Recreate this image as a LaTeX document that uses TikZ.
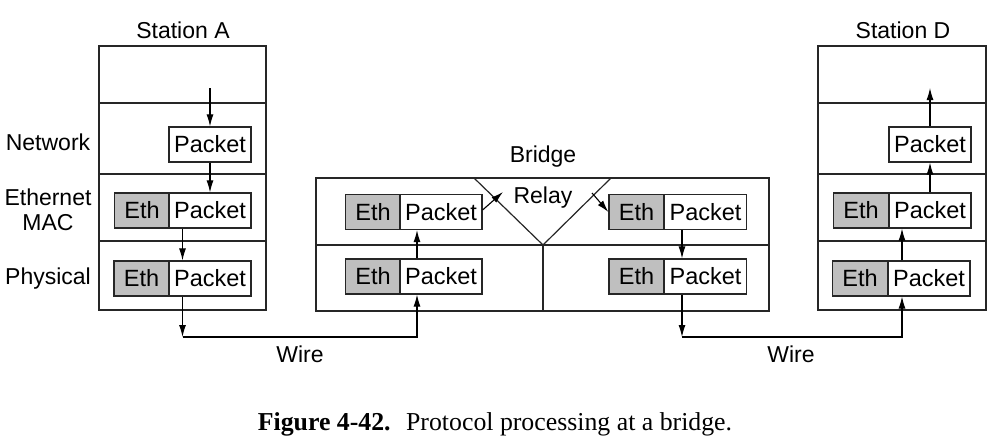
\documentclass[tikz,border=0pt]{standalone}
\usepackage{fontspec}
\setmainfont{Liberation Sans}
\newfontfamily\capfont{Liberation Serif}
\usetikzlibrary{arrows.meta,calc}
\begin{document}
\begin{tikzpicture}[x=1pt,y=-1pt,
  line width=1.2pt, draw=black!85,
  lbl/.style={font=\fontsize{23}{25}\selectfont, inner sep=0pt},
  ethbox/.style={draw=black!85, fill=black!25, minimum width=55pt, minimum height=35pt, inner sep=0pt, font=\fontsize{23.5}{25}\selectfont},
  pktbox/.style={draw=black!85, fill=white, minimum width=82pt, minimum height=35pt, inner sep=0pt, font=\fontsize{23.5}{25}\selectfont},
  frame/.style={draw=black!85, inner sep=0pt},
  arr/.style={-{Latex[length=12pt,width=7pt]}, line width=1.1pt, draw=black}
]
\useasboundingbox (0,0) rectangle (1005,447);

% Station A
\node[frame, minimum width=167pt, minimum height=264pt] (stA) at (182.5,178) {};
\draw (99,103) -- (266,103) (99,174) -- (266,174) (99,241) -- (266,241);
\node[pktbox] (pA3) at (210,144.5) {Packet};
\node[ethbox] (eA2) at (142,210.5) {Eth};
\node[pktbox] (pA2) at (210,210.5) {Packet};
\node[ethbox] (eA1) at (141.5,278.5) {Eth};
\node[pktbox] (pA1) at (210,278.5) {Packet};
\coordinate (topA) at (210,88);
\draw[arr] (topA) -- (pA3.north);
\draw[arr] (pA3.south) -- (pA2.north);
\draw[arr] (pA2.south -| stA.center) -- (pA1.north -| stA.center);

% Station D
\node[frame, minimum width=168pt, minimum height=264pt] (stD) at (902,178) {};
\draw (818,103) -- (986,103) (818,174) -- (986,174) (818,241) -- (986,241);
\node[pktbox] (pD3) at (930,144.5) {Packet};
\node[ethbox] (eD2) at (861,210.5) {Eth};
\node[pktbox] (pD2) at (930,210.5) {Packet};
\node[ethbox] (eD1) at (860,278.5) {Eth};
\node[pktbox] (pD1) at (929,278.5) {Packet};
\coordinate (topD) at (930,88);
\draw[arr] (pD3.north) -- (topD);
\draw[arr] (pD2.north) -- (pD3.south);
\draw[arr] (pD1.north -| stD.center) -- (pD2.south -| stD.center);

% Bridge
\node[frame, minimum width=453pt, minimum height=133pt] (br) at (542.5,244.5) {};
\draw (316,245) -- (769,245);
\draw (543,245) -- (543,311);
\coordinate (apex) at (543,245);
\draw (474,178) -- (apex) -- (611,178);
\node[ethbox] (eB2) at (373,212) {Eth};
\node[pktbox] (pB2) at (441,212) {Packet};
\node[ethbox] (eB1) at (373,276.5) {Eth};
\node[pktbox] (pB1) at (441,276.5) {Packet};
\node[ethbox] (eC2) at (636.5,212) {Eth};
\node[pktbox] (pC2) at (705.5,212) {Packet};
\node[ethbox] (eC1) at (636.5,276.5) {Eth};
\node[pktbox] (pC1) at (705.5,276.5) {Packet};
\coordinate (rin) at (503,192);
\coordinate (rout) at (592,193);
\draw[arr] (pB1.north -| 417,0) -- (pB2.south -| 417,0);
\draw[arr] (pB2.east) ++(0,-2) -- (rin);
\draw[arr] (rout) -- (eC2.west);
\draw[arr] (pC2.south -| 682,0) -- (pC1.north -| 682,0);

% Wires
\coordinate (w1) at (182.5,337);
\coordinate (w2) at (417,337);
\coordinate (w3) at (682,337);
\coordinate (w4) at (902,337);
\draw[arr] (pA1.south -| stA.center) -- (w1);
\draw[arr] (w1) -- (w2) -- (pB1.south -| w2);
\draw[arr] (pC1.south -| w3) -- (w3);
\draw[arr] (w3) -- (w4) -- (pD1.south -| stD.center);

% Labels
\node[lbl] (tA) at (183,30) {Station A};
\node[lbl] (tD) at (903,30) {Station D};
\node[lbl] (tB) at (543,157) {Bridge};
\node[lbl] (tR) at (543,198) {Relay};
\node[lbl] (tW1) at (300,354) {Wire};
\node[lbl] (tW2) at (791,354) {Wire};
\node[lbl] (tN) at (48,142) {Network};
\node[lbl, align=center, font=\fontsize{23}{25}\selectfont] (tM) at (48,210) {Ethernet\\MAC};
\node[lbl] (tP) at (48,279) {Physical};
\node[inner sep=0pt, font=\capfont\fontsize{25.8}{28}\selectfont] (cap) at (495,424) {\textbf{Figure 4-42.}\hspace{0.6em}Protocol processing at a bridge.};
\end{tikzpicture}
\end{document}
